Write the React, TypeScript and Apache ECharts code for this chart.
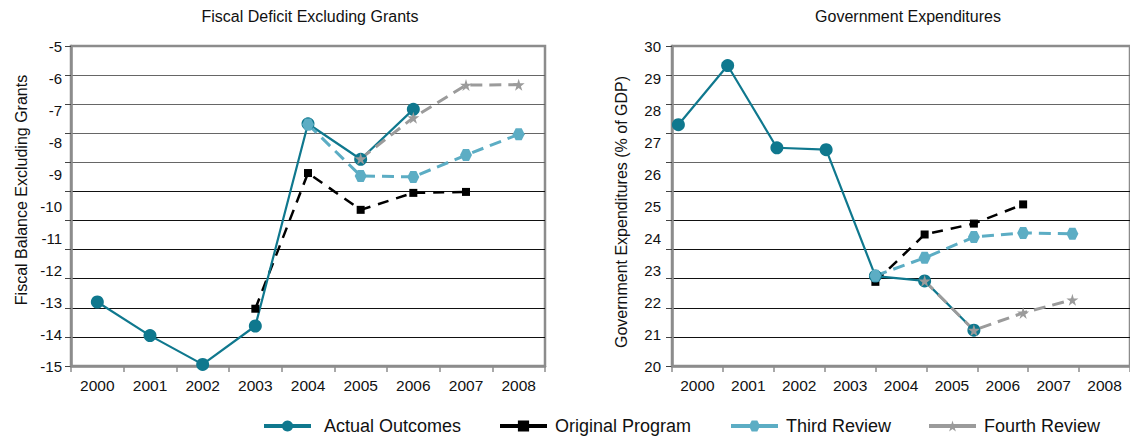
import React, { useEffect, useRef } from "react";
import * as echarts from "echarts";

const years = ["2000", "2001", "2002", "2003", "2004", "2005", "2006", "2007", "2008"];

const fiscalActual = [-13.0, -14.05, -14.95, -13.75, -7.43, -8.54, -6.98, null, null];
const fiscalOriginal = [null, null, null, -13.21, -8.97, -10.12, -9.59, -9.56, null];
const fiscalThird = [null, null, null, null, -7.45, -9.06, -9.09, -8.41, -7.76];
const fiscalFourth = [null, null, null, null, null, -8.52, -7.24, -6.22, -6.21];

const expActual = [27.54, 29.39, 26.82, 26.76, 22.81, 22.66, 21.12, null, null];
const expOriginal = [null, null, null, null, 22.63, 24.11, 24.45, 25.05, null];
const expThird = [null, null, null, null, 22.82, 23.38, 24.03, 24.16, 24.13];
const expFourth = [null, null, null, null, null, 22.66, 21.12, 21.66, 22.07];

const seriesNames = ["Actual Outcomes", "Original Program", "Third Review", "Fourth Review"];
const chartTitles = ["Fiscal Deficit Excluding Grants", "Government Expenditures"];
const axisNames = ["Fiscal Balance Excluding Grants", "Government Expenditures (% of GDP)"];

const FONT = "'Liberation Sans', Arial, Helvetica, sans-serif";
const TEAL = "#0f788e";
const LIGHT = "#5cadc4";
const GRAY = "#9b9b9b";
const BLACK = "#000000";
const STAR = "path://M50,0 L61,35 L98,35 L68,57 L79,91 L50,70 L21,91 L32,57 L2,35 L39,35 Z";
const HEX = "path://M25,0 L75,0 L100,50 L75,100 L25,100 L0,50 Z";

const splitColors = ["#111", "#111", "#111", "#111", "#111", "#111", "#111", "#666", "#666", "#666", "#666", "#8c8c8c"];

const styles: Record<string, any> = {
  "Actual Outcomes": { color: TEAL, symbol: "circle", symbolSize: 13, lineType: "solid", width: 2.2 },
  "Original Program": { color: BLACK, symbol: "rect", symbolSize: 8, lineType: [11, 8], width: 2.5 },
  "Third Review": { color: LIGHT, symbol: HEX, symbolSize: 12, lineType: [12, 7], width: 3 },
  "Fourth Review": { color: GRAY, symbol: STAR, symbolSize: 12, lineType: [12, 7], width: 3 },
};

function mk(name: string, data: any[], xAxisIndex: number, yAxisIndex: number) {
  const s = styles[name];
  return {
    type: "line",
    name,
    data,
    xAxisIndex,
    yAxisIndex,
    symbol: s.symbol,
    symbolSize: s.symbolSize,
    showSymbol: true,
    connectNulls: false,
    itemStyle: { color: s.color, borderWidth: 0 },
    lineStyle: { color: s.color, width: s.width, type: s.lineType },
    emphasis: { disabled: true },
  };
}

function pairs(arr: (number | null)[]) {
  const out: number[][] = [];
  arr.forEach((v, i) => {
    if (v !== null) out.push([i, v]);
  });
  return out;
}

function catAxis(gridIndex: number) {
  return {
    type: "category",
    gridIndex,
    data: years,
    boundaryGap: true,
    axisLine: { show: true, onZero: false, lineStyle: { color: "#8c8c8c", width: 2.5 } },
    axisTick: { show: true, length: 6, lineStyle: { color: "#8c8c8c", width: 1.5 } },
    axisLabel: { fontSize: 15.5, color: "#111", margin: 11, fontFamily: FONT },
    splitLine: { show: false },
  };
}

function labelAxis(gridIndex: number, min: number, max: number, margin: number) {
  return {
    type: "value",
    gridIndex,
    position: "left",
    min,
    max,
    interval: 1,
    axisLine: { show: true, onZero: false, lineStyle: { color: "#8c8c8c", width: 2.5 } },
    axisTick: { show: false },
    axisLabel: { fontSize: 15, color: "#111", margin, fontFamily: FONT },
    splitLine: { show: false },
  };
}

function gridAxis(gridIndex: number) {
  return {
    type: "value",
    gridIndex,
    position: "left",
    min: 0,
    max: 11,
    interval: 1,
    axisLine: { show: false, onZero: false },
    axisTick: { show: true, length: 6, lineStyle: { color: "#444", width: 1 } },
    axisLabel: { show: false },
    splitLine: { show: true, lineStyle: { color: splitColors, width: 1 } },
  };
}

function legendAt(name: string, left: number, gap: number) {
  return {
    data: [name],
    left,
    top: 417,
    itemWidth: 47,
    itemHeight: 14,
    padding: 0,
    selectedMode: false,
    lineStyle: { type: "solid", width: 4 },
    textStyle: { fontSize: 18, color: "#111", fontFamily: FONT, padding: [0, 0, 0, gap] },
  };
}

export default function App() {
  const ref = useRef<HTMLDivElement>(null);

  useEffect(() => {
    if (!ref.current) return;
    const chart = echarts.init(ref.current, null, { renderer: "svg" });
    const option: any = {
      animation: false,
      backgroundColor: "#ffffff",
      textStyle: { fontFamily: FONT },
      grid: [
        { left: 71, top: 46, width: 474, height: 320, show: true, borderColor: "#8c8c8c", borderWidth: 2.5, containLabel: false },
        { left: 672, top: 46, width: 472, height: 320, show: true, borderColor: "#8c8c8c", borderWidth: 2.5, containLabel: false },
      ],
      xAxis: [
        catAxis(0),
        catAxis(1),
        { type: "value", gridIndex: 1, min: -0.13, max: 9.17, show: false },
      ],
      yAxis: [
        labelAxis(0, -15, -5, 9),
        gridAxis(0),
        labelAxis(1, 20, 30, 11),
        gridAxis(1),
      ],
      legend: [
        legendAt(seriesNames[0], 262, 8),
        legendAt(seriesNames[1], 498, 3),
        legendAt(seriesNames[2], 729, 3),
        legendAt(seriesNames[3], 927, 3),
      ],
      graphic: [
        { type: "text", x: 310, y: 16, style: { text: chartTitles[0], fontSize: 16, fill: "#111", align: "center", verticalAlign: "middle", fontFamily: FONT } },
        { type: "text", x: 908, y: 16, style: { text: chartTitles[1], fontSize: 16, fill: "#111", align: "center", verticalAlign: "middle", fontFamily: FONT } },
        { type: "text", x: 21, y: 190, rotation: Math.PI / 2, style: { text: axisNames[0], fontSize: 16, fill: "#111", align: "center", verticalAlign: "middle", fontFamily: FONT } },
        { type: "text", x: 621, y: 212, rotation: Math.PI / 2, style: { text: axisNames[1], fontSize: 16, fill: "#111", align: "center", verticalAlign: "middle", fontFamily: FONT } },
      ],
      series: [
        mk(seriesNames[1], fiscalOriginal, 0, 0),
        mk(seriesNames[0], fiscalActual, 0, 0),
        mk(seriesNames[2], fiscalThird, 0, 0),
        mk(seriesNames[3], fiscalFourth, 0, 0),
        mk(seriesNames[1], pairs(expOriginal), 2, 2),
        mk(seriesNames[0], pairs(expActual), 2, 2),
        mk(seriesNames[2], pairs(expThird), 2, 2),
        mk(seriesNames[3], pairs(expFourth), 2, 2),
      ],
    };
    chart.setOption(option);
    return () => chart.dispose();
  }, []);

  return (
    <div
      ref={ref}
      style={{ position: "fixed", left: 0, top: 0, width: 1130, height: 438, background: "#fff" }}
    />
  );
}
